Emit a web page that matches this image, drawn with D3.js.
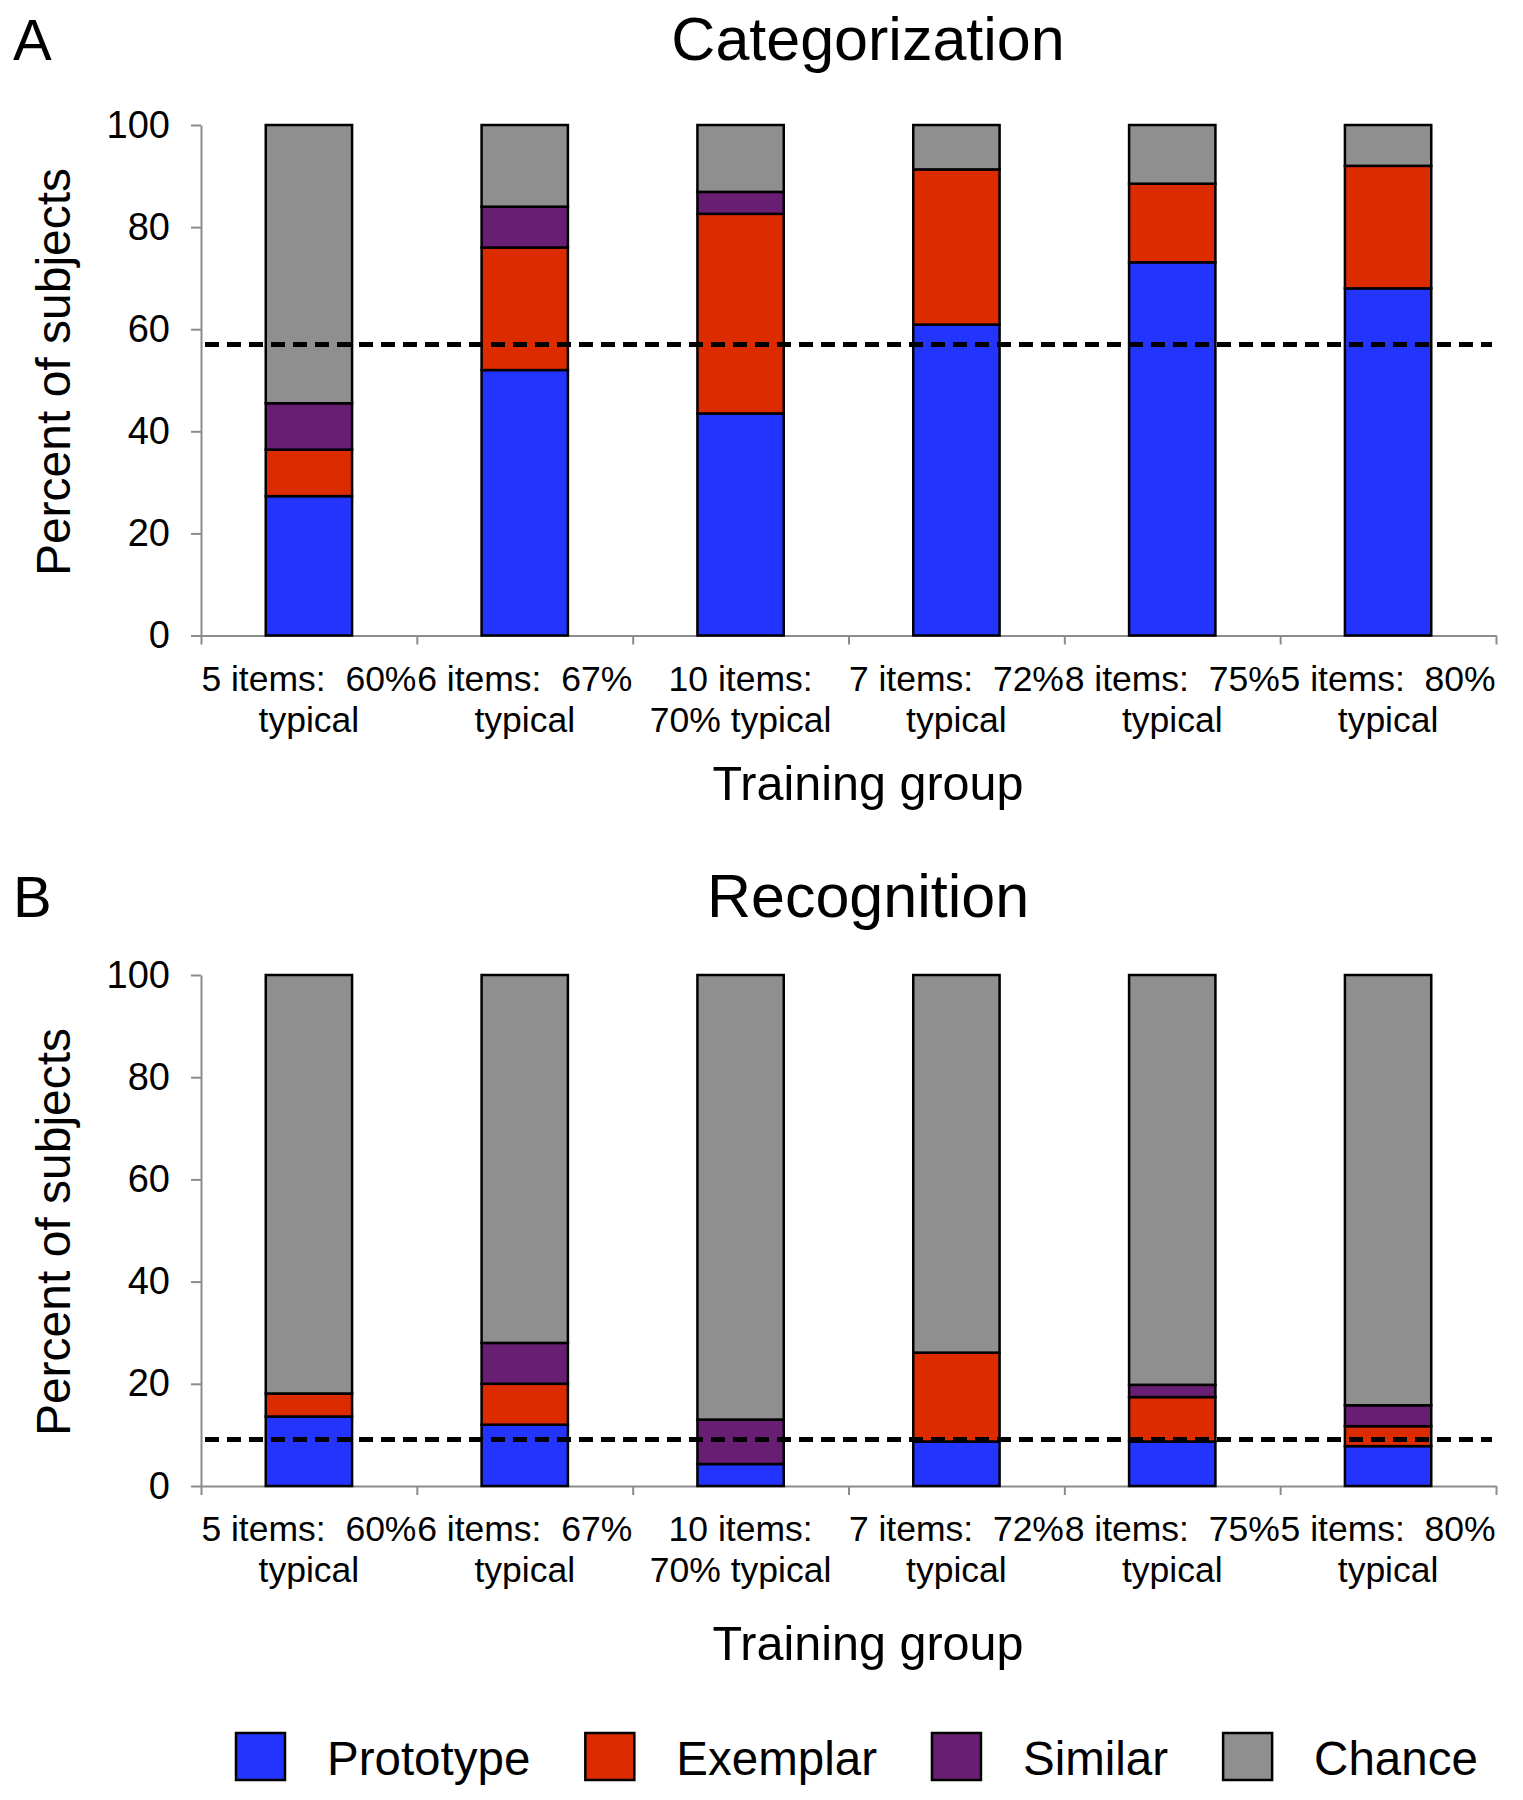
<!DOCTYPE html>
<html>
<head>
<meta charset="utf-8">
<script src="https://cdn.jsdelivr.net/npm/d3@7"></script>
<style>
  html, body { margin: 0; padding: 0; background: #fff; }
  svg text { font-family: "Liberation Sans", "Helvetica Neue", Helvetica, Arial, sans-serif; fill: #000; }
</style>
</head>
<body>
<svg id="chart" width="1523" height="1800"></svg>
<script>
// ---------- data ----------
const categoryLines = [
  ["5 items:  60%", "typical"],
  ["6 items:  67%", "typical"],
  ["10 items:", "70% typical"],
  ["7 items:  72%", "typical"],
  ["8 items:  75%", "typical"],
  ["5 items:  80%", "typical"]
];
const seriesNames = ["Prototype", "Exemplar", "Similar", "Chance"];
const seriesColors = ["#2234fe", "#dd2b00", "#681e72", "#8f8f8f"];

// Panel A: Categorization (percent of subjects)
const catPrototype = [27.3, 52.0, 43.5, 60.9, 73.1, 68.0];
const catExemplar  = [9.1, 24.0, 39.1, 30.4, 15.4, 24.0];
const catSimilar   = [9.1, 8.0, 4.3, 0, 0, 0];
const catChance    = [54.5, 16.0, 13.1, 8.7, 11.5, 8.0];
const catChanceLine = 57.0;

// Panel B: Recognition (percent of subjects)
const recPrototype = [13.6, 12.0, 4.3, 8.7, 8.7, 7.8];
const recExemplar  = [4.5, 8.0, 0, 17.4, 8.7, 3.9];
const recSimilar   = [0, 8.0, 8.7, 0, 2.4, 4.1];
const recChance    = [81.9, 72.0, 87.0, 73.9, 80.2, 84.2];
const recChanceLine = 9.1;

const yTicks = [0, 20, 40, 60, 80, 100];

// ---------- layout ----------
const svg = d3.select("#chart");
const left = 201, right = 1496;

const panels = [
  { letter: "A", title: "Categorization", top: 125, bottom: 635.5, titleY: 60,
    yLabelCenter: 372, xTitleY: 800,
    series: [catPrototype, catExemplar, catSimilar, catChance], line: catChanceLine },
  { letter: "B", title: "Recognition", top: 975, bottom: 1486, titleY: 917,
    yLabelCenter: 1232, xTitleY: 1660,
    series: [recPrototype, recExemplar, recSimilar, recChance], line: recChanceLine }
];

const idx = d3.range(categoryLines.length);
const x = d3.scaleBand().domain(idx).range([left, right]).paddingInner(0.6).paddingOuter(0.3);
const xb = d3.scaleLinear().domain([0, categoryLines.length]).range([left, right]);

panels.forEach(p => {
  const g = svg.append("g");
  const y = d3.scaleLinear().domain([0, 100]).range([p.bottom, p.top]);

  const rows = idx.map(i => {
    const o = { i };
    seriesNames.forEach((s, k) => o[s] = p.series[k][i]);
    return o;
  });
  const stacked = d3.stack().keys(seriesNames)(rows);

  // letter & title
  g.append("text").attr("x", 13).attr("y", p.titleY).attr("font-size", 58).text(p.letter);
  g.append("text").attr("x", 868).attr("y", p.titleY).attr("text-anchor", "middle")
    .attr("font-size", 61).text(p.title);

  // y axis
  const yAxis = g.append("g").attr("transform", `translate(${left},0)`)
    .call(d3.axisLeft(y).tickValues(yTicks).tickSize(10).tickPadding(21).tickSizeOuter(0));
  yAxis.select(".domain").attr("stroke", "#8c8c8c").attr("stroke-width", 2);
  yAxis.selectAll(".tick line").attr("stroke", "#8c8c8c").attr("stroke-width", 2);
  yAxis.selectAll(".tick text").attr("font-size", 38).attr("font-family", "Liberation Sans").attr("fill", "#000");

  // x axis (boundary ticks)
  const xAxis = g.append("g").attr("transform", `translate(0,${p.bottom})`)
    .call(d3.axisBottom(xb).tickValues(d3.range(categoryLines.length + 1)).tickSize(9).tickFormat(() => "").tickSizeOuter(0));
  xAxis.select(".domain").attr("stroke", "#8c8c8c").attr("stroke-width", 2);
  xAxis.selectAll(".tick line").attr("stroke", "#8c8c8c").attr("stroke-width", 2);

  // bars
  stacked.forEach((layer, k) => {
    g.append("g").selectAll("rect").data(layer.filter(d => d[1] - d[0] > 0)).join("rect")
      .attr("x", d => x(d.data.i))
      .attr("width", x.bandwidth())
      .attr("y", d => y(d[1]))
      .attr("height", d => y(d[0]) - y(d[1]))
      .attr("fill", seriesColors[k])
      .attr("stroke", "#000")
      .attr("stroke-width", 2.5);
  });

  // chance line
  g.append("line").attr("x1", left + 4).attr("x2", right - 4)
    .attr("y1", y(p.line)).attr("y2", y(p.line))
    .attr("stroke", "#000").attr("stroke-width", 5).attr("stroke-dasharray", "14,8");

  // category labels
  idx.forEach(i => {
    const cx = x(i) + x.bandwidth() / 2;
    const t = g.append("text").attr("text-anchor", "middle").attr("font-size", 35.5)
      .attr("x", cx).attr("y", p.bottom + 55).style("white-space", "pre");
    t.append("tspan").attr("x", cx).attr("dy", 0).text(categoryLines[i][0]);
    t.append("tspan").attr("x", cx).attr("dy", 41).text(categoryLines[i][1]);
  });

  // x title
  g.append("text").attr("x", 868).attr("y", p.xTitleY).attr("text-anchor", "middle")
    .attr("font-size", 48.5).text("Training group");

  // y title
  g.append("text").attr("transform", `translate(70,${p.yLabelCenter}) rotate(-90)`)
    .attr("text-anchor", "middle").attr("font-size", 48).text("Percent of subjects");
});

// ---------- legend ----------
const legend = svg.append("g");
let lx = 236;
seriesNames.forEach((s, k) => {
  legend.append("rect").attr("x", lx).attr("y", 1733).attr("width", 49).attr("height", 47)
    .attr("fill", seriesColors[k]).attr("stroke", "#000").attr("stroke-width", 2.5);
  const t = legend.append("text").attr("x", lx + 91).attr("y", 1775).attr("font-size", 47.5).text(s);
  lx += 91 + t.node().getComputedTextLength() + 55;
});
</script>
</body>
</html>
